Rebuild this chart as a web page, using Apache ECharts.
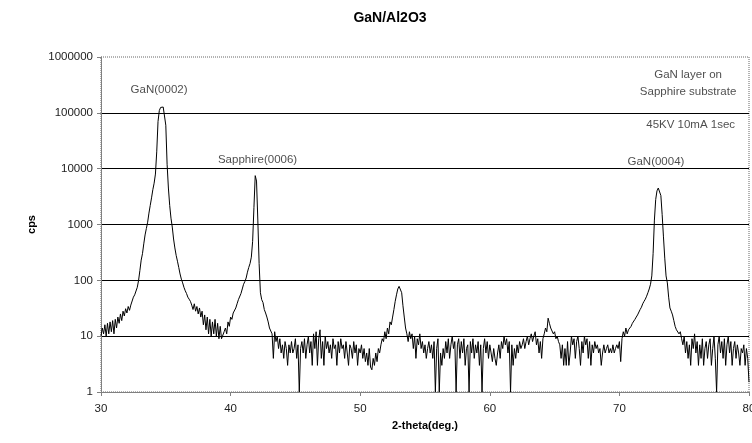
<!DOCTYPE html>
<html>
<head>
<meta charset="utf-8">
<script src="https://cdn.jsdelivr.net/npm/echarts@6/dist/echarts.min.js"></script>
<style>
html,body{margin:0;padding:0;background:#fff;}
#chart{width:752px;height:443px;}
</style>
</head>
<body>
<div id="chart"></div>
<script>
// 2-theta angles (deg.)
const theta = [
30.0,30.1,30.2,30.3,30.4,30.5,30.6,30.7,30.8,30.9,
31.0,31.1,31.2,31.3,31.4,31.5,31.6,31.7,31.8,31.9,
32.0,32.1,32.2,32.3,32.4,32.5,32.6,32.7,32.8,32.9,
33.0,33.1,33.2,33.3,33.4,33.5,33.6,33.7,33.8,33.9,
34.0,34.1,34.2,34.3,34.4,34.5,34.6,34.7,34.8,34.9,
35.0,35.1,35.2,35.3,35.4,35.5,35.6,35.7,35.8,35.9,
36.0,36.1,36.2,36.3,36.4,36.5,36.6,36.7,36.8,36.9,
37.0,37.1,37.2,37.3,37.4,37.5,37.6,37.7,37.8,37.9,
38.0,38.1,38.2,38.3,38.4,38.5,38.6,38.7,38.8,38.9,
39.0,39.1,39.2,39.3,39.4,39.5,39.6,39.7,39.8,39.9,
40.0,40.1,40.2,40.3,40.4,40.5,40.6,40.7,40.8,40.9,
41.0,41.1,41.2,41.3,41.4,41.5,41.6,41.7,41.8,41.9,
42.0,42.1,42.2,42.3,42.4,42.5,42.6,42.7,42.8,42.9,
43.0,43.1,43.2,43.3,43.4,43.5,43.6,43.7,43.8,43.9,
44.0,44.1,44.2,44.3,44.4,44.5,44.6,44.7,44.8,44.9,
45.0,45.1,45.2,45.3,45.4,45.5,45.6,45.7,45.8,45.9,
46.0,46.1,46.2,46.3,46.4,46.5,46.6,46.7,46.8,46.9,
47.0,47.1,47.2,47.3,47.4,47.5,47.6,47.7,47.8,47.9,
48.0,48.1,48.2,48.3,48.4,48.5,48.6,48.7,48.8,48.9,
49.0,49.1,49.2,49.3,49.4,49.5,49.6,49.7,49.8,49.9,
50.0,50.1,50.2,50.3,50.4,50.5,50.6,50.7,50.8,50.9,
51.0,51.1,51.2,51.3,51.4,51.5,51.6,51.7,51.8,51.9,
52.0,52.1,52.2,52.3,52.4,52.5,52.6,52.7,52.8,52.9,
53.0,53.1,53.2,53.3,53.4,53.5,53.6,53.7,53.8,53.9,
54.0,54.1,54.2,54.3,54.4,54.5,54.6,54.7,54.8,54.9,
55.0,55.1,55.2,55.3,55.4,55.5,55.6,55.7,55.8,55.9,
56.0,56.1,56.2,56.3,56.4,56.5,56.6,56.7,56.8,56.9,
57.0,57.1,57.2,57.3,57.4,57.5,57.6,57.7,57.8,57.9,
58.0,58.1,58.2,58.3,58.4,58.5,58.6,58.7,58.8,58.9,
59.0,59.1,59.2,59.3,59.4,59.5,59.6,59.7,59.8,59.9,
60.0,60.1,60.2,60.3,60.4,60.5,60.6,60.7,60.8,60.9,
61.0,61.1,61.2,61.3,61.4,61.5,61.6,61.7,61.8,61.9,
62.0,62.1,62.2,62.3,62.4,62.5,62.6,62.7,62.8,62.9,
63.0,63.1,63.2,63.3,63.4,63.5,63.6,63.7,63.8,63.9,
64.0,64.1,64.2,64.3,64.4,64.5,64.6,64.7,64.8,64.9,
65.0,65.1,65.2,65.3,65.4,65.5,65.6,65.7,65.8,65.9,
66.0,66.1,66.2,66.3,66.4,66.5,66.6,66.7,66.8,66.9,
67.0,67.1,67.2,67.3,67.4,67.5,67.6,67.7,67.8,67.9,
68.0,68.1,68.2,68.3,68.4,68.5,68.6,68.7,68.8,68.9,
69.0,69.1,69.2,69.3,69.4,69.5,69.6,69.7,69.8,69.9,
70.0,70.1,70.2,70.3,70.4,70.5,70.6,70.7,70.8,70.9,
71.0,71.1,71.2,71.3,71.4,71.5,71.6,71.7,71.8,71.9,
72.0,72.1,72.2,72.3,72.4,72.5,72.6,72.7,72.8,72.9,
73.0,73.1,73.2,73.3,73.4,73.5,73.6,73.7,73.8,73.9,
74.0,74.1,74.2,74.3,74.4,74.5,74.6,74.7,74.8,74.9,
75.0,75.1,75.2,75.3,75.4,75.5,75.6,75.7,75.8,75.9,
76.0,76.1,76.2,76.3,76.4,76.5,76.6,76.7,76.8,76.9,
77.0,77.1,77.2,77.3,77.4,77.5,77.6,77.7,77.8,77.9,
78.0,78.1,78.2,78.3,78.4,78.5,78.6,78.7,78.8,78.9,
79.0,79.1,79.2,79.3,79.4,79.5,79.6,79.7,79.8,79.9,
80.0
];

// counts per second
const cps = [
10,14,11,16,10,17,11,18,12,19,
11,20,14,22,17,25,19,28,23,31,
26,34,29,36,38,50,55,58,75,100,
150,230,300,450,650,850,1100,1600,2200,3000,
4200,5500,8000,20000,70000,110000,125000,128000,127000,120000,
60000,12000,4500,2200,1300,900,550,380,280,220,
170,130,105,90,75,65,58,50,46,42,
36,30,38,28,34,25,32,22,28,16,
24,13,22,11,20,10,18,11,20,10,
17,9,15,9,8.5,12,14,11,18,15,
22,20,26,24,32,38,45,48,58,70,
85,95,110,140,170,200,260,500,2000,7500,
6000,1200,200,60,45,40,30,26,22,18,
14,15,11,4,12,8,10,6,9,5,
7,4,8,6,3,7,5,8,5,6,
9,4,7,1,6,8,5,9,4,7,
10,5,8,3,11,6,12,3,9,13,
4,8,3,10,6,8,5,7,4,9,
6,7,3,8,5,9,6,7,4,8,
5,3,7,6,4,8,5,7,3,6,
5,7,4,6,3.5,5,3,6,2.8,2.5,
4,3,5,3.5,6,5,7,9,8,12,
9,14,11,18,16,22,30,42,55,70,
78,72,60,35,22,14,11,8,12,9,
11,6,10,4,9,7,11,6,8,5,
7,4,6,8,5,7,4,8,1,6,
9,1,5,3,6,4,8,5,9,4,
7,10,6,8,1,7,9,4,8,5,
9,3,6,7,1,8,5,9,4,7,
5,8,3,7,1,6,9,5,8,4,
7,5,3.5,6,4,3,5,7,4,8,
6,10,7,9,5,8,1,7,3,6,
4,7,5,8,6,7,9,6,8,10,
7,9,11,8,10,12,7,9,5,8,
4,9,11,14,12,21,17,14,13,11,
12,9,10,8,7,4,7,3,6,3,
8,3,5,10,7,9,4,8,10,6,
3,8,5,10,7,9,4,8,3,7,
5,8,6,7,5,6,3,5,7,5,
6,7,5,6,5,7,5,6,7,6,
8,3.5,9,12,10,14,11,13,12,15,
17,18,20,22,24,26,30,33,38,42,
46,52,60,70,85,120,300,1200,2800,4000,
4500,4300,3300,1500,600,250,120,90,50,32,
28,24,19,15,13,14,11,12,9,7,
10,5,8,4,7,3,9,6,11,5,
8,3,7,4,9,3,6,8,4,7,
9,3,6,10,4,1,7,10,5,8,
4,9,3,7,10,5,8,3,6,8,
4,7,5,3,6,5,7,3,6,4,
1.5
];

// axis ticks
const xTicks = [30, 40, 50, 60, 70, 80];
const yTicks = [1, 10, 100, 1000, 10000, 100000, 1000000];

// annotation texts and their anchor in data space
const noteTexts = ['GaN(0002)', 'Sapphire(0006)', 'GaN(0004)', 'GaN layer on\nSapphire substrate', '45KV 10mA 1sec'];
const noteTheta = [34.48, 42.08, 72.82, 75.3, 75.5];
const noteCps = [258000, 14400, 13200, 338000, 61000];

const FONT = '"Liberation Sans", Arial, sans-serif';
const lineData = theta.map((t, i) => [t, cps[i]]);
const noteData = noteTexts.map((s, i) => [noteTheta[i], noteCps[i], s]);

const chart = echarts.init(document.getElementById('chart'), null, {renderer: 'canvas'});
chart.setOption({
  animation: false,
  backgroundColor: '#fff',
  title: {
    text: 'GaN/Al2O3',
    left: 385,
    textAlign: 'center',
    top: 6,
    textStyle: {fontFamily: FONT, fontSize: 14, fontWeight: 'bold', color: '#000'}
  },
  grid: {
    left: 101, right: 3, top: 57, bottom: 51,
    show: true, borderColor: '#666', borderWidth: 1, borderType: 'dotted',
    backgroundColor: 'transparent',
    outerBoundsMode: 'none', containLabel: false
  },
  xAxis: {
    type: 'value',
    min: xTicks[0], max: xTicks[xTicks.length - 1], interval: 10,
    name: '2-theta(deg.)',
    nameLocation: 'middle',
    nameGap: 28,
    nameMoveOverlap: false,
    nameTextStyle: {fontFamily: FONT, fontSize: 11, fontWeight: 'bold', color: '#000'},
    axisLine: {show: true, lineStyle: {color: '#808080', width: 1}},
    axisTick: {show: true, length: 4, lineStyle: {color: '#808080'}},
    axisLabel: {fontFamily: FONT, fontSize: 11.5, color: '#222', margin: 11, showMaxLabel: true},
    splitLine: {show: false}
  },
  yAxis: {
    type: 'log',
    logBase: 10,
    min: yTicks[0], max: yTicks[yTicks.length - 1],
    splitNumber: 6,
    name: 'cps',
    nameLocation: 'middle',
    nameGap: 64,
    nameMoveOverlap: false,
    nameRotate: 90,
    nameTextStyle: {fontFamily: FONT, fontSize: 11, fontWeight: 'bold', color: '#000'},
    axisLine: {show: true, lineStyle: {color: '#808080', width: 1}},
    axisTick: {show: true, length: 4, lineStyle: {color: '#808080'}},
    axisLabel: {
      fontFamily: FONT, fontSize: 11.5, color: '#222', margin: 8,
      formatter: v => String(Math.round(v))
    },
    splitLine: {show: true, showMaxLine: false, showMinLine: false, lineStyle: {color: '#000', width: 1}}
  },
  series: [
    {
      type: 'line',
      data: lineData,
      symbol: 'none',
      sampling: false,
      lineStyle: {color: '#000', width: 1},
      z: 3
    },
    {
      type: 'scatter',
      data: noteData,
      symbolSize: 1,
      itemStyle: {color: 'rgba(0,0,0,0)'},
      silent: true,
      label: {
        show: true,
        position: 'inside',
        formatter: p => p.value[2],
        fontFamily: FONT,
        fontSize: 11.5,
        lineHeight: 17,
        align: 'center',
        color: '#222'
      },
      z: 4
    }
  ]
});
</script>
</body>
</html>
